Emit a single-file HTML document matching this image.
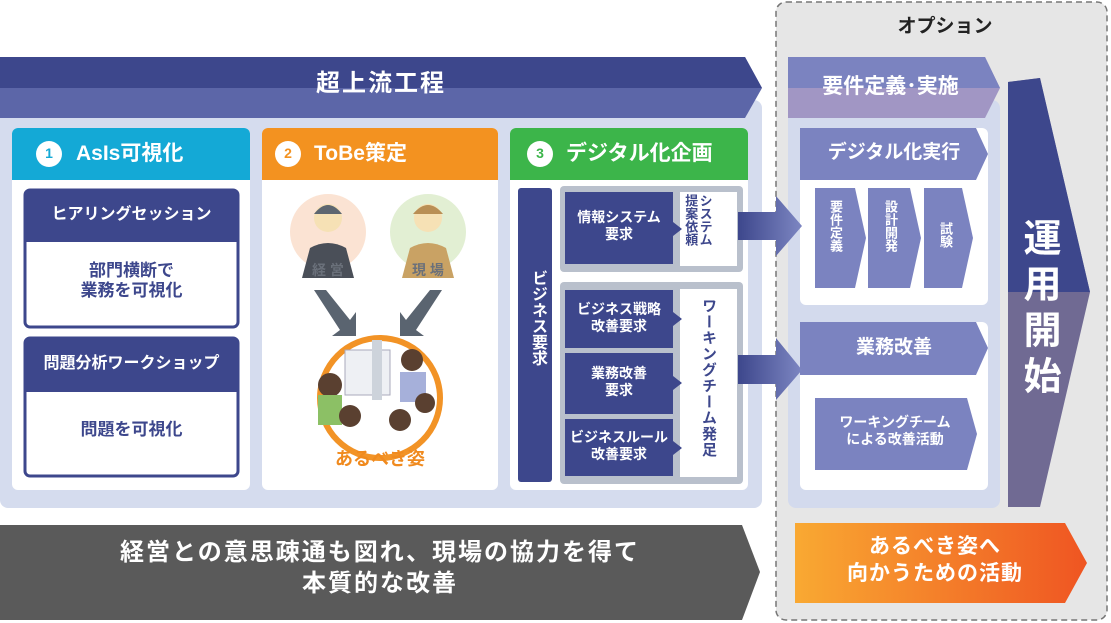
<!DOCTYPE html>
<html><head><meta charset="utf-8">
<style>
body{margin:0;width:1111px;height:623px;overflow:hidden;background:#fff;font-family:"Liberation Sans","Noto Sans CJK JP",sans-serif;}
.t{position:absolute;font-weight:bold;text-align:center;white-space:nowrap;line-height:1.2;}
.v{position:absolute;writing-mode:vertical-rl;font-weight:bold;white-space:nowrap;}
</style></head><body>
<svg width="1111" height="623" style="position:absolute;left:0;top:0">
<defs>
<linearGradient id="og" x1="0" x2="1"><stop offset="0" stop-color="#f9a932"/><stop offset="1" stop-color="#ef5522"/></linearGradient>
<linearGradient id="ag" x1="0" x2="1"><stop offset="0" stop-color="#3d478c"/><stop offset="1" stop-color="#7d86c2"/></linearGradient>
</defs>
<rect x="776" y="2" width="331" height="618" rx="10" fill="#e6e6e6" stroke="#777" stroke-width="1.5" stroke-dasharray="6,4"/>
<rect x="0" y="100" width="762" height="408" rx="8" fill="#d5dcee"/>
<polygon points="0,57 745,57 762,88 745,118 0,118" fill="#5c66a8"/>
<polygon points="0,57 745,57 762,88 0,88" fill="#3d478c"/>
<rect x="12" y="128" width="238" height="362" rx="6" fill="#fff"/>
<path d="M12,180 V134 a6,6 0 0 1 6,-6 H244 a6,6 0 0 1 6,6 V180Z" fill="#14a9d6"/>
<rect x="262" y="128" width="236" height="362" rx="6" fill="#fff"/>
<path d="M262,180 V134 a6,6 0 0 1 6,-6 H492 a6,6 0 0 1 6,6 V180Z" fill="#f39220"/>
<rect x="510" y="128" width="238" height="362" rx="6" fill="#fff"/>
<path d="M510,180 V134 a6,6 0 0 1 6,-6 H742 a6,6 0 0 1 6,6 V180Z" fill="#3cb54a"/>
<circle cx="49" cy="154" r="13" fill="#fff"/><circle cx="288" cy="154" r="13" fill="#fff"/><circle cx="540" cy="154" r="13" fill="#fff"/>
<rect x="25" y="190" width="213" height="137" rx="5" fill="#fff" stroke="#3d478c" stroke-width="3"/>
<path d="M25,242 V195 a5,5 0 0 1 5,-5 H233 a5,5 0 0 1 5,5 V242Z" fill="#3d478c"/>
<rect x="25" y="338" width="213" height="138" rx="5" fill="#fff" stroke="#3d478c" stroke-width="3"/>
<path d="M25,392 V343 a5,5 0 0 1 5,-5 H233 a5,5 0 0 1 5,5 V392Z" fill="#3d478c"/>
<circle cx="328" cy="232" r="38" fill="#fbe3d3"/>
<circle cx="428" cy="232" r="38" fill="#e2efd3"/>
<path d="M310,248 q18,-10 36,0 l8,30 h-52z" fill="#4a4f58"/>
<circle cx="328" cy="218" r="14" fill="#f6e1b5"/><path d="M314,214 q14,-18 28,0z" fill="#5d6670"/>
<path d="M410,248 q18,-10 36,0 l8,30 h-52z" fill="#c9a264"/>
<circle cx="428" cy="218" r="14" fill="#f6e1b5"/><path d="M413,214 q15,-18 30,0z" fill="#b98f55"/>
<polygon points="314,290 326,290 350,320 356,312 356,336 332,336 340,330" fill="#5a6470"/>
<polygon points="442,290 430,290 406,320 400,312 400,336 424,336 416,330" fill="#5a6470"/>
<circle cx="380" cy="398" r="60" fill="#fff" stroke="#f29326" stroke-width="6"/>
<rect x="345" y="350" width="45" height="45" fill="#eef0f4" stroke="#aab" />
<rect x="372" y="340" width="10" height="60" fill="#cdd3db"/>
<circle cx="330" cy="385" r="12" fill="#5a4030"/><rect x="318" y="395" width="24" height="30" fill="#8cc065"/>
<circle cx="412" cy="360" r="11" fill="#5a4030"/><rect x="400" y="372" width="26" height="30" fill="#a6b0da"/>
<circle cx="350" cy="416" r="11" fill="#5a4030"/><circle cx="400" cy="420" r="11" fill="#5a4030"/>
<circle cx="425" cy="403" r="10" fill="#5a4030"/>
<rect x="518" y="188" width="34" height="294" rx="3" fill="#3d478c"/>
<rect x="560" y="186" width="183" height="86" rx="4" fill="#b9c0cc"/>
<rect x="560" y="282" width="183" height="202" rx="4" fill="#b9c0cc"/>
<rect x="680" y="192" width="57" height="74" fill="#fff"/>
<rect x="680" y="289" width="57" height="188" fill="#fff"/>
<polygon points="565,192 673,192 673,222 682,229 673,236 673,264 565,264" fill="#3d478c"/>
<polygon points="565,290 673,290 673,312 682,319 673,326 673,348 565,348" fill="#3d478c"/>
<polygon points="565,353 673,353 673,376 682,383 673,390 673,414 565,414" fill="#3d478c"/>
<polygon points="565,419 673,419 673,441 682,448 673,455 673,476 565,476" fill="#3d478c"/>
<rect x="788" y="100" width="212" height="408" rx="8" fill="#d3daed"/>
<polygon points="788,57 985,57 1000,88 985,118 788,118" fill="#a196c4"/>
<polygon points="788,57 985,57 1000,88 788,88" fill="#7b83c0"/>
<rect x="800" y="128" width="188" height="177" rx="6" fill="#fff"/>
<polygon points="800,128 976,128 988,154 976,180 800,180" fill="#7b83c0"/>
<polygon points="815,188 855,188 866,238 855,288 815,288" fill="#7b83c0"/>
<polygon points="868,188 910,188 921,238 910,288 868,288" fill="#7b83c0"/>
<polygon points="924,188 962,188 973,238 962,288 924,288" fill="#7b83c0"/>
<rect x="800" y="322" width="188" height="168" rx="6" fill="#fff"/>
<polygon points="800,322 976,322 988,348 976,375 800,375" fill="#7b83c0"/>
<polygon points="815,398 967,398 977,434 967,470 815,470" fill="#7b83c0"/>
<polygon points="738,212 776,212 776,196 802,226 776,256 776,240 738,240" fill="url(#ag)"/>
<polygon points="738,355 776,355 776,338 802,370 776,400 776,384 738,384" fill="url(#ag)"/>
<polygon points="1008,82 1040,78 1090,292 1040,507 1008,507" fill="#706a93"/>
<polygon points="1008,82 1040,78 1090,292 1008,292" fill="#3d478c"/>
<polygon points="0,525 742,525 760,572 742,620 0,620" fill="#5a5a5a"/>
<polygon points="795,523 1065,523 1087,563 1065,603 795,603" fill="url(#og)"/>
</svg>
<div class="t" style="left:0;width:762px;top:70px;color:#fff;font-size:24px;letter-spacing:2px;">超上流工程</div>
<div class="t" style="left:820px;width:250px;top:16px;color:#222;font-size:19px;">オプション</div>
<div class="t" style="left:43px;width:12px;top:145px;color:#14a9d6;font-size:14px;">1</div>
<div class="t" style="left:282px;width:12px;top:145px;color:#f39220;font-size:14px;">2</div>
<div class="t" style="left:534px;width:12px;top:145px;color:#3cb54a;font-size:14px;">3</div>
<div class="t" style="left:76px;top:141px;color:#fff;font-size:21px;">AsIs可視化</div>
<div class="t" style="left:314px;top:141px;color:#fff;font-size:21px;">ToBe策定</div>
<div class="t" style="left:566px;top:141px;color:#fff;font-size:21px;">デジタル化企画</div>
<div class="t" style="left:25px;width:213px;top:205px;color:#fff;font-size:16px;">ヒアリングセッション</div>
<div class="t" style="left:25px;width:213px;top:261px;color:#3d478c;font-size:17px;">部門横断で<br>業務を可視化</div>
<div class="t" style="left:25px;width:213px;top:354px;color:#fff;font-size:16px;">問題分析ワークショップ</div>
<div class="t" style="left:25px;width:213px;top:420px;color:#3d478c;font-size:17px;">問題を可視化</div>
<div class="t" style="left:298px;width:60px;top:262px;color:#6a707a;font-size:14px;">経 営</div>
<div class="t" style="left:398px;width:60px;top:262px;color:#6a707a;font-size:14px;">現 場</div>
<div class="t" style="left:310px;width:140px;top:449px;color:#f08a1e;font-size:18px;">あるべき姿</div>
<div class="v" style="left:525px;top:270px;color:#fff;font-size:16px;">ビジネス要求</div>
<div class="t" style="left:565px;width:108px;top:209px;color:#fff;font-size:14px;">情報システム<br>要求</div>
<div class="v" style="left:683px;top:194px;color:#3d478c;font-size:13px;line-height:1.1;">システム<br>提案依頼</div>
<div class="t" style="left:565px;width:108px;top:301px;color:#fff;font-size:14px;">ビジネス戦略<br>改善要求</div>
<div class="t" style="left:565px;width:108px;top:365px;color:#fff;font-size:14px;">業務改善<br>要求</div>
<div class="t" style="left:565px;width:108px;top:429px;color:#fff;font-size:14px;">ビジネスルール<br>改善要求</div>
<div class="v" style="left:698px;top:298px;color:#3d478c;font-size:15px;letter-spacing:1px;">ワーキングチーム発足</div>
<div class="t" style="left:788px;width:205px;top:74px;color:#fff;font-size:21px;">要件定義･実施</div>
<div class="t" style="left:800px;width:188px;top:142px;color:#fff;font-size:19px;">デジタル化実行</div>
<div class="v" style="left:826px;top:200px;color:#fff;font-size:13px;">要件定義</div>
<div class="v" style="left:881px;top:200px;color:#fff;font-size:13px;">設計開発</div>
<div class="v" style="left:936px;top:222px;color:#fff;font-size:13px;">試験</div>
<div class="t" style="left:800px;width:188px;top:337px;color:#fff;font-size:19px;">業務改善</div>
<div class="t" style="left:815px;width:160px;top:414px;color:#fff;font-size:14px;">ワーキングチーム<br>による改善活動</div>
<div class="v" style="left:1019px;top:218px;color:#fff;font-size:38px;line-height:1;letter-spacing:8px;">運用開始</div>
<div class="t" style="left:0;width:760px;top:537px;color:#fff;font-size:24px;letter-spacing:2px;line-height:1.3;">経営との意思疎通も図れ、現場の協力を得て<br>本質的な改善</div>
<div class="t" style="left:795px;width:280px;top:533px;color:#fff;font-size:21px;letter-spacing:1px;line-height:1.3;">あるべき姿へ<br>向かうための活動</div>
</body></html>
